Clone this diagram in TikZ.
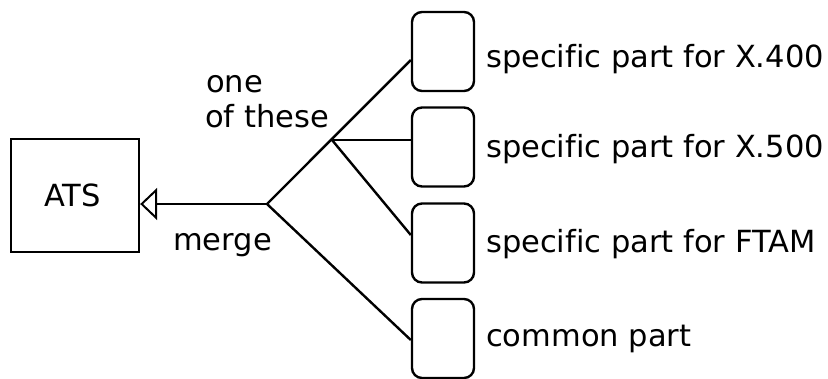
\documentclass[tikz,border=0pt]{standalone}
\usepackage{fontspec}
\setmainfont[Ligatures=NoCommon]{DejaVu Sans}
\usetikzlibrary{arrows.meta}
\begin{document}
\begin{tikzpicture}[x=1pt,y=-1pt,
  line width=2.4pt,
  every node/.style={font=\fontsize{30.5}{35}\selectfont},
  entity/.style={draw, rectangle, minimum width=128pt, minimum height=113pt, inner sep=0pt},
  part/.style={draw, rectangle, rounded corners=10pt, minimum width=62pt, minimum height=79pt, inner sep=0pt},
  label/.style={inner sep=0pt, anchor=base west},
  merge arrow/.style={-{Triangle[open, length=17pt, width=32pt, line width=2pt]}}]
  \useasboundingbox (0,0) rectangle (828,378);
  \clip (0,0) rectangle (828,378);

  % the merged entity
  \node[entity] (ats) at (75,195.5) {\hspace*{-5pt}ATS};

  % the four parts
  \node[part] (p1) at (443,51.5) {};
  \node[part] (p2) at (443,147) {};
  \node[part] (p3) at (443,243) {};
  \node[part] (p4) at (443,338.5) {};

  % branch points
  \coordinate (m) at (267,204);
  \coordinate (j) at (332,140);

  % merge arrow into ATS
  \draw[merge arrow] (m) -- (m -| ats.east);

  % branches
  \draw (m) -- ([yshift=-8.5pt]p1.west);
  \draw (j) -- (j -| p2.west);
  \draw (j) -- ([yshift=8pt]p3.west);
  \draw (m) -- ([yshift=-1.5pt]p4.west);

  % labels
  \node[label] (l1) at (485,67) {specific part for X.400};
  \node[label] (l2) at (485,157) {specific part for X.500};
  \node[label] (l3) at (485,252) {specific part for FTAM};
  \node[label] (l4) at (485,346) {common part};
  \node[label] (one) at (205,92) {one};
  \node[label] (these) at (204,127) {of these};
  \node[label] (mg) at (172,250) {merge};
\end{tikzpicture}
\end{document}
